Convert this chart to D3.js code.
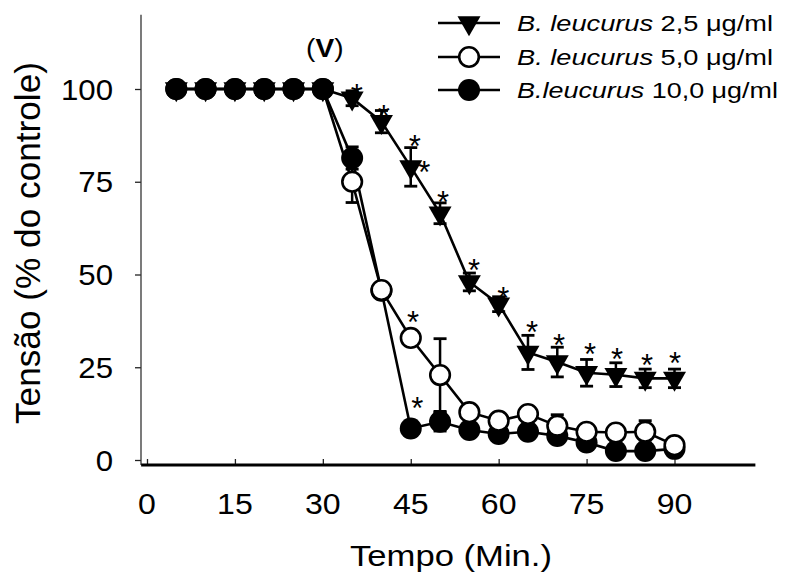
<!DOCTYPE html>
<html><head><meta charset="utf-8">
<script src="https://cdn.jsdelivr.net/npm/d3@7"></script>
<style>html,body{margin:0;padding:0;background:#fff}svg{display:block}</style>
</head><body>
<svg id="c" width="787" height="574"></svg>
<script>
const times = [5,10,15,20,25,30,35,40,45,50,55,60,65,70,75,80,85,90];
const tri      = [100,100,100,100,100,100,97.5,91.2,79,66.5,48,42,29,26.4,23.5,23,22,22];
const triErr   = [0,0,0,0,0,0,2,3,5.2,2.8,2.4,2,4.6,4,3.6,3.2,2.5,2.5];
const openC    = [100,100,100,100,100,100,75,45.8,32.9,22.9,12.9,10.6,12.4,9.2,7.6,7.4,7.6,4];
const openErr  = [0,0,0,0,0,0,5.6,1,1,9.8,1,1,1,3,1,1,3,1];
const fillC    = [100,100,100,100,100,100,81.4,45.6,8.5,10.3,8.1,7,7.6,6.5,4.7,2.4,2.4,3];
const fillErr  = [0,0,0,0,0,0,3,1,1,2.5,1,1,1,1,1,1,1,1];
const xTicks = [0,15,30,45,60,75,90];
const yTicks = [0,25,50,75,100];
const legendLabels = [["B. leucurus"," 2,5 \u03bcg/ml"],["B. leucurus"," 5,0 \u03bcg/ml"],["B.leucurus"," 10,0 \u03bcg/ml"]];
// asterisk annotation positions (time, % value)
const stars = [[35.8,100.3],[40.4,94.6],[45.7,86.5],[47.3,79.6],[50.5,71.4],[55.8,53.1],[60.8,45.6],[65.7,36.4],[70.3,32.9],[75.6,30.5],[80.2,29.1],[85.3,27.5],[90.1,28.0],[45.4,39.1],[46.1,15.9]];
const xTitle = "Tempo (Min.)";
const yTitle = "Tens\u00e3o (% do controle)";

const svg = d3.select("#c");
const FONT = "Arial, 'Liberation Sans', Helvetica, sans-serif";
const x = d3.scaleLinear().domain([0,90]).range([147,674.5]);
const y = d3.scaleLinear().domain([0,100]).range([460,89]);

// axes
const yAxis = svg.append("g").attr("transform","translate(141,0)")
  .call(d3.axisLeft(y).tickValues(yTicks).tickSize(6).tickFormat(""));
yAxis.select(".domain").remove();
yAxis.selectAll("line").attr("stroke","#222").attr("stroke-width",1.3);
svg.append("line").attr("x1",141).attr("x2",141).attr("y1",y(120)).attr("y2",465)
  .attr("stroke","#333").attr("stroke-width",1.3);

const xAxis = svg.append("g").attr("transform","translate(0,465)")
  .call(d3.axisTop(x).tickValues(xTicks).tickSize(6).tickFormat(""));
xAxis.select(".domain").remove();
xAxis.selectAll("line").attr("stroke","#222").attr("stroke-width",1.3);
svg.append("line").attr("x1",x(-1)).attr("x2",x(103.8)).attr("y1",465).attr("y2",465)
  .attr("stroke","#000").attr("stroke-width",3);

// tick labels
yTicks.forEach(v=>{
  svg.append("text").attr("transform",`translate(113,${y(v)+10.7}) scale(1.04,1)`)
    .attr("text-anchor","end").attr("font-family",FONT).attr("font-size",30).text(v);
});
xTicks.forEach(v=>{
  svg.append("text").attr("transform",`translate(${x(v)},514) scale(1.07,1)`)
    .attr("text-anchor","middle").attr("font-family",FONT).attr("font-size",30).text(v);
});
svg.append("text").attr("x",451).attr("y",566).attr("text-anchor","middle")
  .attr("font-family",FONT).attr("font-size",30).attr("textLength",202).attr("lengthAdjust","spacingAndGlyphs").text(xTitle);
svg.append("text").attr("transform","translate(40,243) rotate(-90)").attr("text-anchor","middle")
  .attr("font-family",FONT).attr("font-size",35).attr("textLength",362).attr("lengthAdjust","spacingAndGlyphs").text(yTitle);

// (V)
const vt = svg.append("text").attr("transform",`translate(${x(30)+2},57) scale(1.08,1)`).attr("text-anchor","middle")
  .attr("font-family",FONT).attr("font-size",26);
vt.append("tspan").text("(");
vt.append("tspan").attr("font-weight","bold").text("V");
vt.append("tspan").text(")");

// marker shapes
const triPath = "M-11.5,-6.7L11.5,-6.7L0,13.3Z";
function drawMarker(g, kind, cx, cy){
  if(kind==="tri") g.append("path").attr("d",triPath).attr("transform",`translate(${cx},${cy})`).attr("fill","#000");
  else if(kind==="open") g.append("circle").attr("cx",cx).attr("cy",cy).attr("r",9.8).attr("fill","#fff").attr("stroke","#000").attr("stroke-width",2.6);
  else g.append("circle").attr("cx",cx).attr("cy",cy).attr("r",11).attr("fill","#000");
}

const series = [
  {kind:"open", vals:openC, err:openErr},
  {kind:"fill", vals:fillC, err:fillErr},
  {kind:"tri", vals:tri, err:triErr}
];
const line = d3.line().x(d=>x(d[0])).y(d=>y(d[1]));
const gBars = svg.append("g"), gLines = svg.append("g"), gMarks = svg.append("g");
series.forEach(s=>{
  const pts = times.map((t,i)=>[t,s.vals[i],s.err[i]]);
  pts.filter(p=>p[2]>0).forEach(p=>{
    const cx=x(p[0]), y1=y(p[1]+p[2]), y2=y(p[1]-p[2]);
    gBars.append("line").attr("x1",cx).attr("x2",cx).attr("y1",y1).attr("y2",y2).attr("stroke","#000").attr("stroke-width",2.5);
    [y1,y2].forEach(yy=>gBars.append("line").attr("x1",cx-6.5).attr("x2",cx+6.5).attr("y1",yy).attr("y2",yy).attr("stroke","#000").attr("stroke-width",2.8));
  });
  gLines.append("path").attr("d",line(pts)).attr("fill","none").attr("stroke","#000").attr("stroke-width",2.6);
});
// markers: circles per time point, the higher one on top (filled on top when tied), triangles last
times.forEach((t,i)=>{
  const circ = [{k:"fill",v:fillC[i],o:1},{k:"open",v:openC[i],o:0}]
    .sort((a,b)=> a.v===b.v ? a.o-b.o : a.v-b.v);
  circ.forEach(c=>drawMarker(gMarks,c.k,x(t),y(c.v)));
});
times.forEach((t,i)=>drawMarker(gMarks,"tri",x(t),y(tri[i])));

// asterisks
stars.forEach(s=>{
  svg.append("text").attr("x",x(s[0])).attr("y",y(s[1])+18).attr("text-anchor","middle")
    .attr("font-family",FONT).attr("font-size",31).text("*");
});

// legend
const kinds = ["tri","open","fill"];
const rowY = [23,57,90];
const lens = [256,256,261];
kinds.forEach((k,i)=>{
  const g = svg.append("g");
  g.append("line").attr("x1",438).attr("x2",500).attr("y1",rowY[i]).attr("y2",rowY[i]).attr("stroke","#000").attr("stroke-width",2.6);
  drawMarker(g,k,469,rowY[i]);
  const t = g.append("text").attr("x",517).attr("y",rowY[i]+8).attr("font-family",FONT).attr("font-size",22)
    .attr("textLength",lens[i]).attr("lengthAdjust","spacingAndGlyphs");
  t.append("tspan").attr("font-style","italic").text(legendLabels[i][0]);
  t.append("tspan").text(legendLabels[i][1]);
});
</script>
</body></html>
